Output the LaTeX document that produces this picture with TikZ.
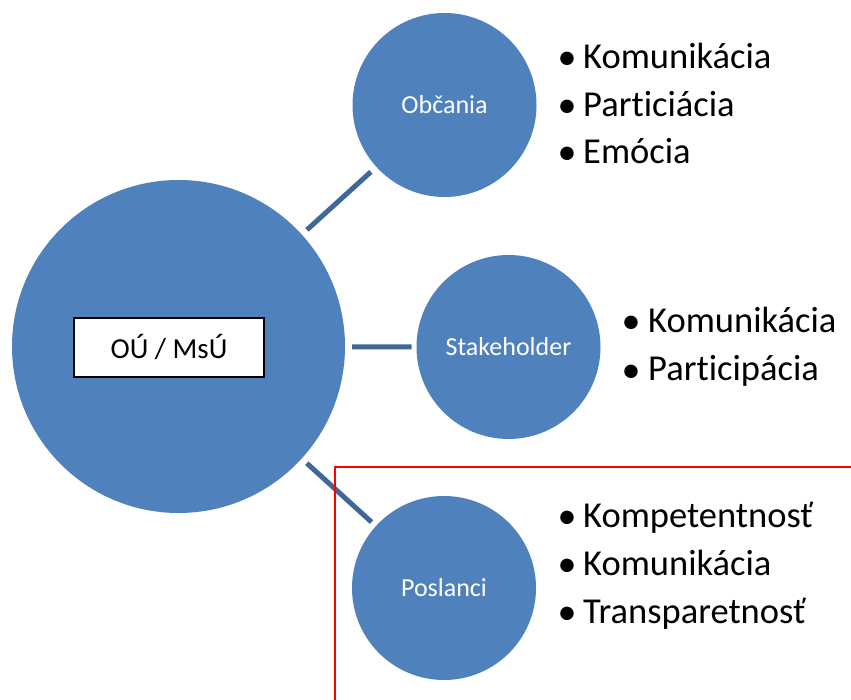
\documentclass[tikz,border=0pt]{standalone}
\usepackage{fontspec}
\setmainfont[Ligatures={NoCommon}]{Carlito}
\definecolor{circblue}{HTML}{4F81BD}
\definecolor{connblue}{HTML}{3F6898}
\begin{document}
\begin{tikzpicture}[x=1pt,y=-1pt,
  bigcirc/.style={circle,fill=circblue,draw=none,inner sep=0pt,outer sep=0pt,minimum size=333pt},
  smallcirc/.style={circle,fill=circblue,draw=none,inner sep=0pt,outer sep=0pt,minimum size=184pt,text=white,font=\fontsize{26}{30}\selectfont},
  conn/.style={draw=connblue,line width=5pt},
  item/.style={anchor=base west,inner sep=0pt,font=\fontsize{36.5}{42}\selectfont},
  bul/.style={anchor=base,inner sep=0pt,font=\fontsize{38}{42}\selectfont},
  labelbox/.style={draw=black,fill=white,line width=1.8pt,minimum width=190pt,minimum height=59pt,inner sep=0pt,font=\fontsize{29}{33}\selectfont}
]
\useasboundingbox (0,0) rectangle (851,700);
\node[bigcirc] (big) at (178.5,346.5) {};
\node[labelbox] (box) at (169,347.5) {OÚ / MsÚ};
\node[smallcirc] (obc) at (444.5,105) {Občania};
\node[smallcirc] (stk) at (508.5,347) {Stakeholder};
\node[smallcirc] (pos) at (444,588) {Poslanci};
\draw[conn,shorten <=7pt,shorten >=7.5pt] (big) -- (obc);
\draw[conn,shorten <=7pt,shorten >=5pt] (big) -- (stk);
\draw[conn,shorten <=7pt,shorten >=6pt] (big) -- (pos);
% bullets
\node[bul] (b1) at (567,70) {•};
\node[item] (t1) at (583,69) {Komunikácia};
\node[bul] (b2) at (567,118) {•};
\node[item] (t2) at (583,117) {Particiácia};
\node[bul] (b3) at (567,165) {•};
\node[item] (t3) at (583,164) {Emócia};
\node[bul] (b4) at (631,334) {•};
\node[item] (t4) at (648,333) {Komunikácia};
\node[bul] (b5) at (631,382) {•};
\node[item] (t5) at (648,381) {Participácia};
\node[bul] (b6) at (567,528) {•};
\node[item] (t6) at (583,527) {Kompetentnosť};
\node[bul] (b7) at (567,576) {•};
\node[item] (t7) at (583,575) {Komunikácia};
\node[bul] (b8) at (567,624) {•};
\node[item] (t8) at (583,623) {Transparetnosť};
\draw[red,line width=2pt] (853,467) -- (335.3,467) -- (335.3,702);
\end{tikzpicture}
\end{document}
